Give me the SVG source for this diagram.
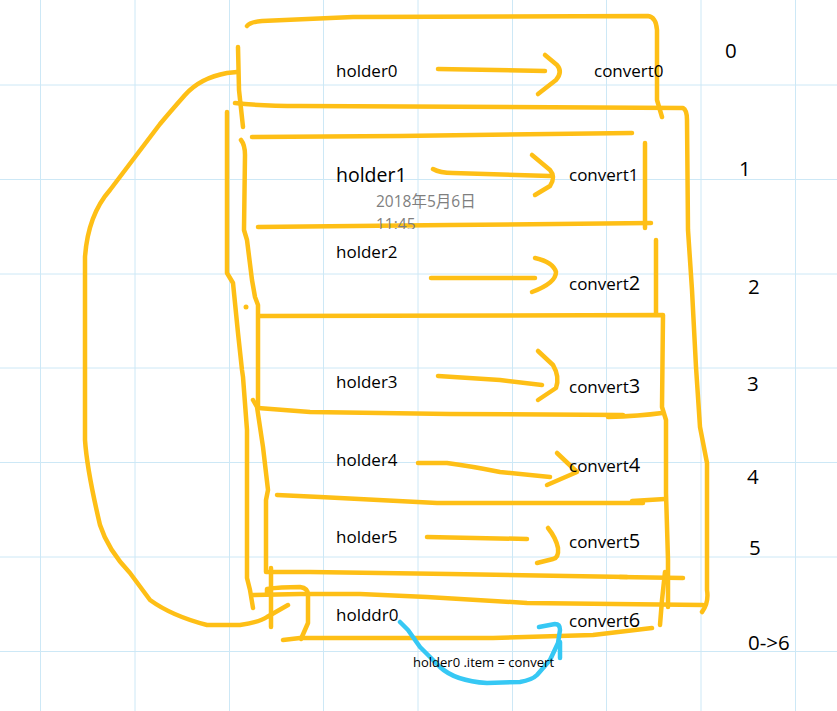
<svg xmlns="http://www.w3.org/2000/svg" width="837" height="711" viewBox="0 0 837 711">
<defs>
<style>
.grid line{stroke:#CDE8F6;stroke-width:1}
.y{fill:none;stroke:#FEBF16;stroke-width:4.5;stroke-linecap:round;stroke-linejoin:round}
.b{fill:none;stroke:#36C8F4;stroke-width:4.5;stroke-linecap:round;stroke-linejoin:round}
.t{font-family:"Open Sans","Noto Sans",sans-serif;font-size:17px;fill:#000}
.big{font-size:19.5px}
.d{font-size:20px}
.g{font-family:"Open Sans","Noto Sans CJK SC",sans-serif;font-size:15.5px;fill:#7F7F7F}
.n{font-family:"Open Sans","Noto Sans",sans-serif;font-size:20.5px;fill:#000}
.s{font-family:"Open Sans","Noto Sans",sans-serif;font-size:13px;fill:#000}
</style>
<clipPath id="cut"><rect x="360" y="200" width="120" height="29"/></clipPath>
</defs>
<rect width="837" height="711" fill="#fff"/>
<g class="grid">
<line x1="40.5" y1="0" x2="40.5" y2="711"/>
<line x1="135" y1="0" x2="135" y2="711"/>
<line x1="229.5" y1="0" x2="229.5" y2="711"/>
<line x1="323.5" y1="0" x2="323.5" y2="711"/>
<line x1="418" y1="0" x2="418" y2="711"/>
<line x1="512.5" y1="0" x2="512.5" y2="711"/>
<line x1="606.5" y1="0" x2="606.5" y2="711"/>
<line x1="701" y1="0" x2="701" y2="711"/>
<line x1="795.5" y1="0" x2="795.5" y2="711"/>
<line x1="0" y1="85" x2="837" y2="85"/>
<line x1="0" y1="179.5" x2="837" y2="179.5"/>
<line x1="0" y1="274" x2="837" y2="274"/>
<line x1="0" y1="368" x2="837" y2="368"/>
<line x1="0" y1="462.5" x2="837" y2="462.5"/>
<line x1="0" y1="557" x2="837" y2="557"/>
<line x1="0" y1="651.5" x2="837" y2="651.5"/>
</g>
<g id="frames">
<path class="y" d="M247,26 Q250,22 262,21 L353,17 L648,16 Q656,17 657,30 L657,100 L662,117"/>
<path class="y" d="M238,47 L239,90 L243,127"/>
<path class="y" d="M235,103 Q260,106 300,106 L683,108 Q687,110 687,120 L688,230 L692,290 L696,367 L700,427 L707,463 L707,590 Q709,603 702,612"/>
<path class="y" d="M252,137 L400,136 L632,133"/>
<path class="y" d="M645,143 L645,228"/>
<path class="y" d="M258,227 L450,225 L651,223"/>
<path class="y" d="M656,240 L656,313"/>
<path class="y" d="M241,140 Q245,145 245,155 L244,230 L247,240 L252,280 L255,297 L258,305 L258,408"/>
<path class="y" d="M259,316 L663,315 L662,407 L666,420 L666,493 L668,560 L668,607"/>
<path class="y" d="M258,408 L310,412 L450,414 L623,415"/>
<path class="y" d="M608,417 Q640,416 662,413"/>
<path class="y" d="M253,400 L257,407 L263,447 L268,490 L266,500 L266,572 L310,572 L450,574 L627,577"/>
<path class="y" d="M620,577 L683,578"/>
<path class="y" d="M277,495 L320,497 L437,503 L643,503"/>
<path class="y" d="M632,501 L665,499"/>
<path class="y" d="M227,112 L227,273 L233,283 L238,333 L242,370 L243,377 L247,430 L247,578 L250,590 L253,608"/>
<path class="y" d="M237,72 L227,73 Q200,78 185,95 Q170,112 160,124 L110,190 Q88,215 85,257 L85,440 Q87,470 100,525 Q108,550 130,573 L150,600 Q172,616 207,625 L240,625 Q260,622 267,617 L288,605"/>
<path class="y" d="M271,568 L271,627"/>
<path class="y" d="M253,595 L300,594 L360,594 L427,597 L527,603 L703,605"/>
<path class="y" d="M267,593 L267,589 Q280,587 300,587 Q308,588 308,595 L308,623 L301,639"/>
<path class="y" d="M283,640 L300,638 L493,638 L593,635 L652,628"/>
<path class="y" d="M665,572 L662,600 L660,625"/>
<circle cx="246" cy="307" r="2.5" fill="#FEBF16"/>
</g>
<g id="connectors">
<path class="y" d="M438,69 L545,71"/>
<path class="y" d="M545,55 L557,65 Q563,72 556,80 L538,94"/>
<path class="y" d="M433,169 Q440,173 453,173 L550,176"/>
<path class="y" d="M532,155 L550,170 Q556,177 550,186 L535,195"/>
<path class="y" d="M431,278 L535,278"/>
<path class="y" d="M535,258 Q553,262 556,272 Q556,283 532,292"/>
<path class="y" d="M438,376 L500,380 L542,385"/>
<path class="y" d="M538,351 L553,365 Q560,377 556,388 L538,400"/>
<path class="y" d="M418,463 L447,463 Q470,466 500,472 L550,477"/>
<path class="y" d="M557,453 L577,472 L547,485"/>
<path class="y" d="M427,537 L527,539"/>
<path class="y" d="M548,528 Q556,538 558,548 Q559,558 553,559 L537,563"/>
<path class="b" d="M400,622 L408,630 L420,647 L440,667 Q455,681 487,683 L520,682 Q532,680 537,675 L550,660 L558,643 L560,630 Q560,624 555,624 L539,627"/>
<path class="b" d="M560,642 L560,658"/>
</g>
<g id="row0"><text class="t" x="336" y="77">holder0</text><text class="t" x="594" y="77">convert0</text></g>
<g id="row1"><text class="t big" x="336" y="182">holder1</text><text class="t" x="569" y="181">convert1</text>
<text class="g" x="376" y="207">2018年5月6日</text>
<text class="g" x="376" y="230" clip-path="url(#cut)">11:45</text></g>
<g id="row2"><text class="t" x="336" y="258">holder2</text><text class="t" x="569" y="290">convert<tspan class="d">2</tspan></text></g>
<g id="row3"><text class="t" x="336" y="388">holder3</text><text class="t" x="569" y="393">convert<tspan class="d">3</tspan></text></g>
<g id="row4"><text class="t" x="336" y="466">holder4</text><text class="t" x="569" y="472">convert<tspan class="d">4</tspan></text></g>
<g id="row5"><text class="t" x="336" y="543">holder5</text><text class="t" x="569" y="548">convert<tspan class="d">5</tspan></text></g>
<g id="row6"><text class="t" x="336" y="621">holddr0</text><text class="t" x="569" y="627">convert<tspan class="d">6</tspan></text>
<text class="s" x="413" y="667">holder0 .item = convert</text></g>
<g id="index">
<text class="n" x="725" y="58">0</text>
<text class="n" x="739" y="176">1</text>
<text class="n" x="748" y="294">2</text>
<text class="n" x="747" y="391">3</text>
<text class="n" x="747" y="484">4</text>
<text class="n" x="749" y="555">5</text>
<text class="n" x="748" y="650">0-&gt;6</text>
</g>
</svg>
